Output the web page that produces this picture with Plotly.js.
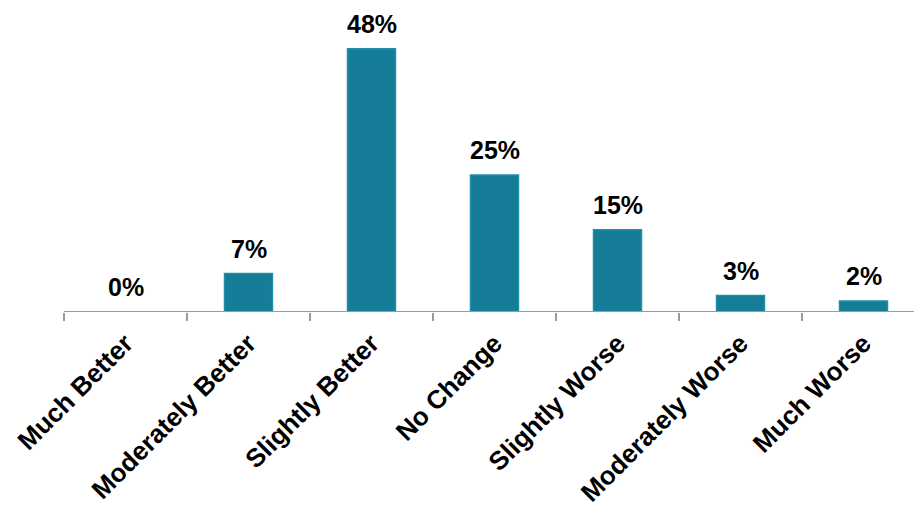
<!DOCTYPE html>
<html>
<head>
<meta charset="utf-8">
<script src="https://cdn.plot.ly/plotly-3.0.1.min.js"></script>
<style>html,body{margin:0;padding:0;background:#fff}#chart{width:914px;height:508px}</style>
</head>
<body>
<div id="chart"></div>
<script>
const categories = ["Much Better", "Moderately Better", "Slightly Better", "No Change", "Slightly Worse", "Moderately Worse", "Much Worse"];
const values = [0, 7, 48, 25, 15, 3, 2];
const valueLabels = ["0%", "7%", "48%", "25%", "15%", "3%", "2%"];

const font = "Liberation Sans, Arial, sans-serif";

const trace = {
  type: "bar",
  x: categories,
  y: values,
  width: 0.39,
  marker: { color: "#157D97", line: { color: "#1E8FAD", width: 1.5 } },
  hoverinfo: "none"
};

const annotations = categories.map((c, i) => ({
  x: c, y: values[i], xref: "x", yref: "y",
  text: "<b>" + valueLabels[i] + "</b>",
  showarrow: false, yanchor: "bottom", yshift: 9,
  font: { family: font, size: 25, color: "#000" }
}));

const layout = {
  width: 914, height: 508,
  margin: { l: 0, r: 0, t: 0, b: 196 },
  paper_bgcolor: "#fff", plot_bgcolor: "#fff",
  showlegend: false,
  xaxis: {
    type: "category",
    categoryorder: "array", categoryarray: categories,
    range: [-1.0203, 6.4106],
    showline: false, showgrid: false, zeroline: false,
    tickson: "boundaries", ticks: "outside", ticklen: 8, tickwidth: 2, tickcolor: "#9a9a9a",
    tickangle: -45,
    ticklabelstandoff: 10,
    tickfont: { family: font, size: 26, color: "#000", weight: "bold" },
    fixedrange: true
  },
  yaxis: {
    range: [0, 56.9],
    visible: false, showgrid: false, zeroline: false, fixedrange: true
  },
  shapes: [{
    type: "line", xref: "x", yref: "y",
    x0: -0.5, x1: 6.9, y0: 0, y1: 0,
    line: { color: "#9a9a9a", width: 2 }, layer: "above"
  }],
  annotations: annotations
};

Plotly.newPlot("chart", [trace], layout, { displayModeBar: false, staticPlot: true });
</script>
</body>
</html>
